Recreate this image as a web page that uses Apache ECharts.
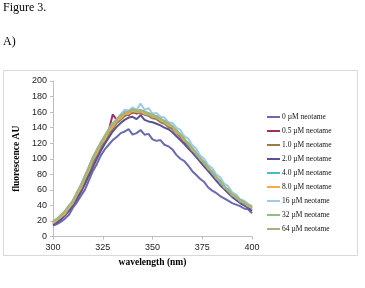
<!DOCTYPE html>
<html>
<head>
<meta charset="utf-8">
<script src="https://cdn.jsdelivr.net/npm/echarts@6/dist/echarts.min.js"></script>
<style>
  html, body { margin: 0; padding: 0; background: #fff; }
  #chart { width: 365px; height: 288px; }
</style>
</head>
<body>
<div id="chart"></div>
<script>
// wavelength every 2 nm, 300..400
const wavelengths = [300,302,304,306,308,310,312,314,316,318,320,322,324,326,328,330,332,334,336,338,340,342,344,346,348,350,352,354,356,358,360,362,364,366,368,370,372,374,376,378,380,382,384,386,388,390,392,394,396,398,400];

const seriesNames = ['0 µM neotame','0.5 µM neotame','1.0 µM neotame','2.0 µM neotame','4.0 µM neotame','8.0 µM neotame','16 µM neotame','32 µM neotame','64 µM neotame'];

const s0  = [14,16,19,23,28,37,44,52,60,72,84,93,104,112,118,124,128,133,135,138,131,133,137,131,132,125,123,124,118,116,112,105,100,97,91,84,79,74,70,63,59,56,52,49,46,43,41,39,36,35,30];
const s05 = [17,20,24,31,35,45,52,64,73,85,97,107,118,124,136,157,150,152,158,156,160,158,161,157,156,154,155,149,146,145,139,134,131,123,119,111,107,99,95,87,83,75,71,63,60,53,51,45,44,39,38];
const s1  = [16,19,23,28,34,42,50,60,70,82,94,104,114,122,131,138,146,150,155,157,159,160,158,157,155,152,151,147,145,141,138,133,128,122,117,110,104,98,92,86,80,74,68,63,58,53,49,45,42,39,36];
const s2  = [15,18,22,27,33,40,48,57,67,78,89,100,110,119,127,135,141,146,150,153,154,151,156,150,148,147,145,143,140,138,134,129,124,119,113,108,102,96,90,84,78,72,66,61,56,51,47,43,40,37,33];
const s4  = [18,22,26,31,37,45,54,64,75,87,99,109,118,127,135,143,149,154,158,160,162,160,161,158,156,156,152,151,146,144,141,136,131,125,118,113,105,101,93,89,81,77,69,65,58,55,49,47,42,41,36];
const s8  = [17,21,25,29,37,43,54,62,75,85,99,107,119,125,135,141,149,152,158,158,162,160,161,158,158,154,154,149,148,143,141,134,131,123,121,111,107,99,95,87,83,75,71,63,60,53,51,45,44,39,37];
const s16 = [19,22,27,32,38,47,56,67,78,90,101,112,121,130,138,146,151,157,163,162,166,163,171,163,165,158,159,154,153,147,146,140,137,129,126,117,113,104,100,92,88,80,76,68,65,57,54,48,46,42,39];
const s32 = [19,23,27,33,39,46,56,66,77,89,101,111,120,129,137,145,150,156,159,161,163,162,162,161,158,157,154,152,148,146,141,137,131,126,119,114,107,101,95,89,83,77,71,65,60,55,51,47,44,41,38];
const s64 = [20,22,28,32,40,45,57,65,78,88,102,110,121,128,138,144,151,155,160,160,164,161,163,160,159,156,155,151,149,145,142,136,132,125,120,113,108,100,96,88,84,76,72,64,61,54,52,46,45,40,39];

const allValues = [s0, s05, s1, s2, s4, s8, s16, s32, s64];
const colors = ['#6A6AAE','#A0305F','#9C7A45','#5B5296','#3FC0C8','#F8A84A','#9CCBF0','#8FBF7F','#A3B47C'];

const yTicks = [0,20,40,60,80,100,120,140,160,180,200];

const chart = echarts.init(document.getElementById('chart'));

const series = seriesNames.map((name, i) => ({
  name: name,
  type: 'line',
  data: wavelengths.map((w, j) => [w, allValues[i][j]]),
  showSymbol: false,
  symbol: 'none',
  lineStyle: { width: 2, color: colors[i] },
  itemStyle: { color: colors[i] },
  animation: false
}));

chart.setOption({
  animation: false,
  graphic: [
    { type: 'rect', shape: { x: 3.5, y: 70.5, width: 354, height: 185 },
      style: { fill: 'none', stroke: '#d9d9d9', lineWidth: 1 } },
    { type: 'text', left: 3, top: 2,
      style: { text: 'Figure 3.', font: '12px "Liberation Serif"', fill: '#000' } },
    { type: 'text', left: 3, top: 36,
      style: { text: 'A)', font: '12px "Liberation Serif"', fill: '#000' } }
  ],
  grid: { left: 53, right: 113, top: 81, bottom: 51.5 },
  legend: {
    orient: 'vertical',
    left: 267,
    top: 112.5,
    padding: 0,
    icon: 'rect',
    itemWidth: 13,
    itemHeight: 2,
    itemGap: 5,
    textStyle: { fontFamily: 'Liberation Serif', fontSize: 7.5, color: '#111', lineHeight: 9, padding: [0, 0, 0, -3] },
    data: seriesNames
  },
  xAxis: {
    type: 'value',
    min: 300,
    max: 400,
    interval: 25,
    name: 'wavelength (nm)',
    nameLocation: 'middle',
    nameGap: 21,
    nameTextStyle: { fontFamily: 'Liberation Serif', fontWeight: 'bold', fontSize: 9.5, color: '#000' },
    axisLine: { lineStyle: { color: '#bfbfbf' } },
    axisTick: { show: true, length: 3, lineStyle: { color: '#bfbfbf' } },
    axisLabel: { fontFamily: 'Liberation Sans', fontSize: 9, color: '#222', margin: 7 },
    splitLine: { show: false }
  },
  yAxis: {
    type: 'value',
    min: 0,
    max: 200,
    interval: 20,
    name: 'fluorescence AU',
    nameLocation: 'middle',
    nameGap: 28,
    nameTextStyle: { fontFamily: 'Liberation Serif', fontWeight: 'bold', fontSize: 9.5, color: '#000' },
    axisLine: { show: true, lineStyle: { color: '#bfbfbf' } },
    axisTick: { show: true, length: 3, lineStyle: { color: '#bfbfbf' } },
    axisLabel: {
      fontFamily: 'Liberation Sans', fontSize: 9, color: '#222', margin: 6,
      formatter: v => (yTicks.indexOf(v) >= 0 ? String(v) : '')
    },
    splitLine: { show: false }
  },
  series: series
});
</script>
</body>
</html>
